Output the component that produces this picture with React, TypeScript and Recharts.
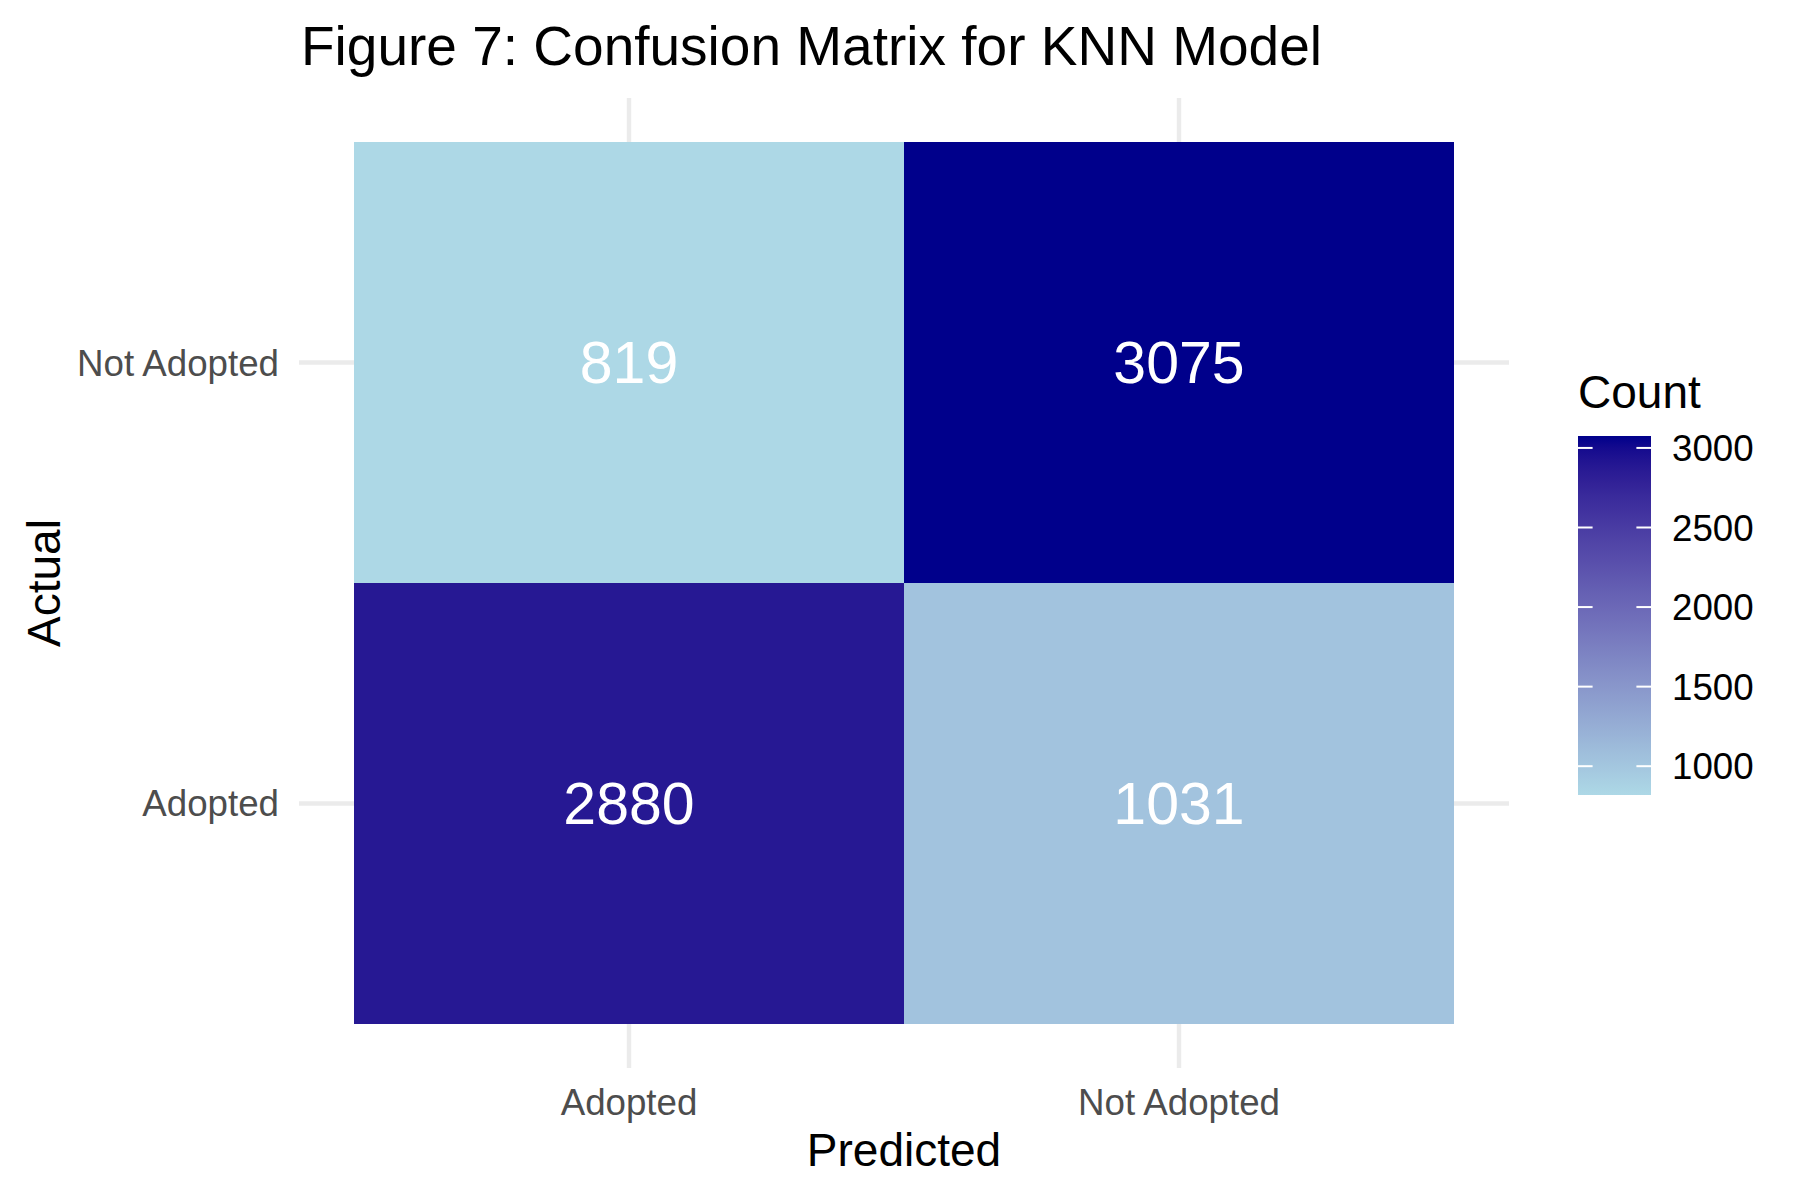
import { BarChart, Bar, XAxis, YAxis, CartesianGrid, Cell, LabelList } from 'recharts'

const predictedLabels = ['Adopted', 'Not Adopted']
const actualLabels = ['Adopted', 'Not Adopted']
// counts by predicted class, one array per actual class
const actualAdoptedCounts = [2880, 1031]
const actualNotAdoptedCounts = [819, 3075]
const legendTicks = [1000, 1500, 2000, 2500, 3000]

const LOW = '#ADD8E6'
const HIGH = '#00008B'
const FONT = '"Liberation Sans", Arial, Helvetica, sans-serif'

// lab interpolation, like ggplot's scale_fill_gradient
const WHITE = [0.95047, 1, 1.08883]
function toLinear(c: number) {
  c /= 255
  return c <= 0.04045 ? c / 12.92 : Math.pow((c + 0.055) / 1.055, 2.4)
}
function fromLinear(c: number) {
  const v = c <= 0.0031308 ? 12.92 * c : 1.055 * Math.pow(c, 1 / 2.4) - 0.055
  return Math.round(Math.min(1, Math.max(0, v)) * 255)
}
function hexToLab(hex: string) {
  const r = toLinear(parseInt(hex.slice(1, 3), 16))
  const g = toLinear(parseInt(hex.slice(3, 5), 16))
  const b = toLinear(parseInt(hex.slice(5, 7), 16))
  const xyz = [
    (0.4124564 * r + 0.3575761 * g + 0.1804375 * b) / WHITE[0],
    (0.2126729 * r + 0.7151522 * g + 0.072175 * b) / WHITE[1],
    (0.0193339 * r + 0.119192 * g + 0.9503041 * b) / WHITE[2],
  ]
  const f = xyz.map((t) => (t > 0.008856 ? Math.cbrt(t) : 7.787 * t + 16 / 116))
  return [116 * f[1] - 16, 500 * (f[0] - f[1]), 200 * (f[1] - f[2])]
}
function labToHex([L, A, B]: number[]) {
  const fy = (L + 16) / 116
  const fx = fy + A / 500
  const fz = fy - B / 200
  const inv = (t: number) => (t * t * t > 0.008856 ? t * t * t : (t - 16 / 116) / 7.787)
  const x = inv(fx) * WHITE[0]
  const y = inv(fy) * WHITE[1]
  const z = inv(fz) * WHITE[2]
  const r = 3.2404542 * x - 1.5371385 * y - 0.4985314 * z
  const g = -0.969266 * x + 1.8760108 * y + 0.041556 * z
  const b = 0.0556434 * x - 0.2040259 * y + 1.0572252 * z
  return '#' + [r, g, b].map((c) => fromLinear(c).toString(16).padStart(2, '0')).join('')
}
const lowLab = hexToLab(LOW)
const highLab = hexToLab(HIGH)
const allCounts = [...actualAdoptedCounts, ...actualNotAdoptedCounts]
const minCount = Math.min(...allCounts)
const maxCount = Math.max(...allCounts)
function fillFor(v: number) {
  const t = (v - minCount) / (maxCount - minCount)
  return labToHex(lowLab.map((l, i) => l + (highLab[i] - l) * t))
}

const data = predictedLabels.map((p, i) => ({
  predicted: p,
  adoptedTile: 1,
  notAdoptedTile: 1,
  adoptedCount: actualAdoptedCounts[i],
  notAdoptedCount: actualNotAdoptedCounts[i],
}))

function XTick({ x, y, payload }: any) {
  return (
    <text x={x} y={y + 39} textAnchor="middle" fill="#4D4D4D" fontSize={36.7} fontFamily={FONT}>
      {payload.value}
    </text>
  )
}

function YTick({ x, y, payload }: any) {
  return (
    <text x={x - 12} y={y + 13} textAnchor="end" fill="#4D4D4D" fontSize={36.7} fontFamily={FONT}>
      {actualLabels[Math.floor(payload.value)]}
    </text>
  )
}

// colourbar geometry
const barX = 1578
const barW = 73
const barTop = 436
const barBottom = 795
const barY = (v: number) => barBottom - ((v - minCount) / (maxCount - minCount)) * (barBottom - barTop)

function Legend() {
  const stops = Array.from({ length: 31 }, (_, i) => i / 30)
  return (
    <g fontFamily={FONT}>
      <defs>
        <linearGradient id="countGrad" x1="0" y1="1" x2="0" y2="0">
          {stops.map((t) => (
            <stop key={t} offset={t} stopColor={fillFor(minCount + t * (maxCount - minCount))} />
          ))}
        </linearGradient>
      </defs>
      <text x={barX} y={408} fontSize={46} fill="#000">
        Count
      </text>
      <rect x={barX} y={barTop} width={barW} height={barBottom - barTop} fill="url(#countGrad)" />
      {legendTicks.map((v) => (
        <g key={v}>
          <line x1={barX} x2={barX + barW / 5} y1={barY(v)} y2={barY(v)} stroke="#fff" strokeWidth={2} />
          <line x1={barX + (barW * 4) / 5} x2={barX + barW} y1={barY(v)} y2={barY(v)} stroke="#fff" strokeWidth={2} />
          <text x={1672} y={barY(v) + 13} fontSize={36.7} fill="#000">
            {v}
          </text>
        </g>
      ))}
    </g>
  )
}

export default function App() {
  return (
    <div style={{ position: 'absolute', left: 0, top: 0, width: 1800, height: 1200, background: '#fff' }}>
      <BarChart
        width={1800}
        height={1200}
        data={data}
        margin={{ top: 98, right: 291, bottom: 0, left: 0 }}
        barCategoryGap={0}
        barGap={0}
      >
        <CartesianGrid stroke="#EBEBEB" strokeWidth={4.4} syncWithTicks />
        <XAxis
          dataKey="predicted"
          type="category"
          padding={{ left: 55, right: 55 }}
          axisLine={false}
          tickLine={false}
          height={132}
          tick={<XTick />}
          interval={0}
        />
        <YAxis
          type="number"
          domain={[-0.1, 2.1]}
          allowDataOverflow
          ticks={[0.5, 1.5]}
          axisLine={false}
          tickLine={false}
          width={299}
          tick={<YTick />}
        />
        <Bar dataKey="adoptedTile" stackId="tiles" isAnimationActive={false}>
          {data.map((d) => (
            <Cell key={d.predicted} fill={fillFor(d.adoptedCount)} />
          ))}
          <LabelList dataKey="adoptedCount" position="center" fill="#fff" fontSize={59} fontFamily={FONT} />
        </Bar>
        <Bar dataKey="notAdoptedTile" stackId="tiles" isAnimationActive={false}>
          {data.map((d) => (
            <Cell key={d.predicted} fill={fillFor(d.notAdoptedCount)} />
          ))}
          <LabelList dataKey="notAdoptedCount" position="center" fill="#fff" fontSize={59} fontFamily={FONT} />
        </Bar>
      </BarChart>
      <svg width={1800} height={1200} style={{ position: 'absolute', left: 0, top: 0, pointerEvents: 'none' }}>
        <text x={301} y={65} fontSize={55} fontFamily={FONT} fill="#000">
          Figure 7: Confusion Matrix for KNN Model
        </text>
        <text x={904} y={1166} fontSize={46} fontFamily={FONT} fill="#000" textAnchor="middle">
          Predicted
        </text>
        <text
          x={60}
          y={583}
          fontSize={46}
          fontFamily={FONT}
          fill="#000"
          textAnchor="middle"
          transform="rotate(-90 60 583)"
        >
          Actual
        </text>
        <Legend />
      </svg>
    </div>
  )
}
